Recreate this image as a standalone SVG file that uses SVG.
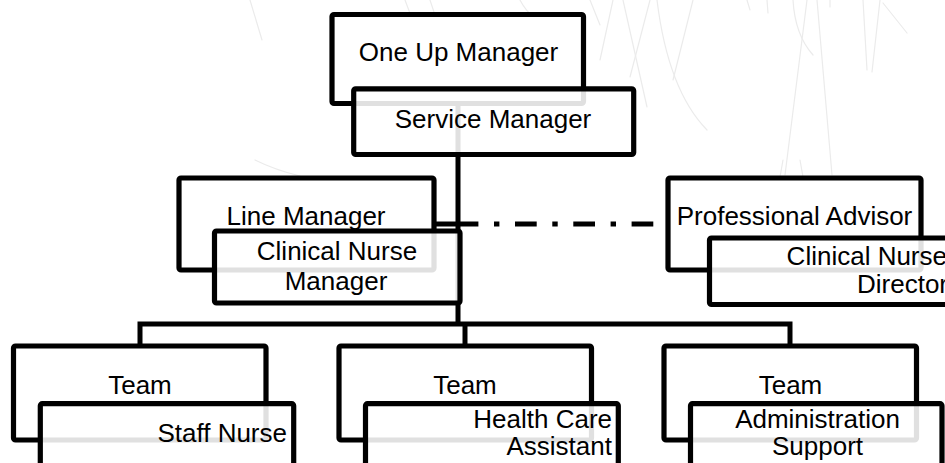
<svg xmlns="http://www.w3.org/2000/svg" width="945" height="463" viewBox="0 0 945 463">
<style>
  .bg{fill:none;stroke:#ebebeb;stroke-width:1.2;stroke-linecap:round}
  .back{fill:#ffffff;stroke:#000;stroke-width:5.2;stroke-linejoin:round}
  .front{fill:#ffffff;fill-opacity:0.88;stroke:#000;stroke-width:5.2;stroke-linejoin:round}
  .conn{fill:none;stroke:#000;stroke-width:5}
  .dash{stroke-dasharray:21.7 15.6 5.4 15.6}
  text{font-family:"Liberation Sans",Arial,sans-serif;font-size:26px;fill:#000}
  .c{text-anchor:middle}
  .r{text-anchor:end}
</style>
<rect x="0" y="0" width="945" height="463" fill="#ffffff"/>
<g id="background-sketch">
  <path class="bg" d="M600 60 L613 0"/>
  <path class="bg" d="M623 0 L647 107"/>
  <path class="bg" d="M630 77 L650 0"/>
  <path class="bg" d="M657 0 Q668 90 707 130"/>
  <path class="bg" d="M693 0 L673 80"/>
  <path class="bg" d="M747 0 L750 10"/>
  <path class="bg" d="M767 0 L768 13"/>
  <path class="bg" d="M793 0 Q795 35 813 55"/>
  <path class="bg" d="M807 0 L785 175"/>
  <path class="bg" d="M817 0 L832 175"/>
  <path class="bg" d="M830 0 L830 7"/>
  <path class="bg" d="M863 0 L867 70"/>
  <path class="bg" d="M880 0 L872 72"/>
  <path class="bg" d="M883 3 L907 33"/>
  <path class="bg" d="M405 0 L420 40"/>
  <path class="bg" d="M430 0 L440 30"/>
  <path class="bg" d="M520 0 Q530 20 560 35"/>
  <path class="bg" d="M590 0 L600 25"/>
  <path class="bg" d="M250 0 L262 40"/>
  <path class="bg" d="M255 160 Q275 170 300 176"/>
  <path class="bg" d="M783 160 L780 177"/>
  <path class="bg" d="M800 160 L803 177"/>
</g>
<g id="connectors">
  <path class="conn" d="M458 104 V324"/>
  <path class="conn" d="M434 224 H458"/>
  <path class="conn dash" d="M456.7 224 H666"/>
  <path class="conn" d="M140 346 V324 H790 V346"/>
  <path class="conn" d="M465 324 V346"/>
</g>
<g id="one-up-manager">
  <rect class="back" x="332" y="14.5" width="251.5" height="89" rx="2"/>
  <text class="c" x="458.5" y="61">One Up Manager</text>
</g>
<g id="line-manager">
  <rect class="back" x="179" y="178" width="255" height="92" rx="2"/>
  <text class="c" x="306" y="225">Line Manager</text>
</g>
<g id="professional-advisor">
  <rect class="back" x="668" y="178" width="253" height="92" rx="2"/>
  <text class="c" x="794.5" y="225">Professional Advisor</text>
</g>
<g id="team-1">
  <rect class="back" x="13.5" y="346" width="252.5" height="94" rx="2"/>
  <text class="c" x="140" y="394">Team</text>
</g>
<g id="team-2">
  <rect class="back" x="339" y="346" width="252.5" height="94" rx="2"/>
  <text class="c" x="465" y="394">Team</text>
</g>
<g id="team-3">
  <rect class="back" x="664" y="346" width="252.5" height="94" rx="2"/>
  <text class="c" x="790.5" y="394">Team</text>
</g>
<g id="service-manager">
  <rect class="front" x="353.7" y="88.8" width="280" height="65.7" rx="2"/>
  <text class="c" x="493" y="128">Service Manager</text>
</g>
<g id="clinical-nurse-manager">
  <rect class="front" x="214.5" y="231" width="245.5" height="72" rx="2"/>
  <text class="c" x="337" y="260">Clinical Nurse</text>
  <text class="c" x="336" y="290">Manager</text>
</g>
<g id="clinical-nurse-director">
  <rect class="front" x="709.5" y="238" width="246" height="66.5" rx="2"/>
  <text class="r" x="947" y="265">Clinical Nurse</text>
  <text class="r" x="948" y="293">Director</text>
</g>
<g id="staff-nurse">
  <rect class="front" x="40.3" y="403.7" width="253.4" height="80" rx="2"/>
  <text class="r" x="287" y="442">Staff Nurse</text>
</g>
<g id="health-care-assistant">
  <rect class="front" x="365.5" y="403.7" width="252.8" height="80" rx="2"/>
  <text class="r" x="612" y="428">Health Care</text>
  <text class="r" x="612" y="455">Assistant</text>
</g>
<g id="administration-support">
  <rect class="front" x="690.5" y="403.7" width="251.5" height="80" rx="2"/>
  <text class="c" x="817.5" y="428">Administration</text>
  <text class="c" x="817.5" y="455">Support</text>
</g>
</svg>
